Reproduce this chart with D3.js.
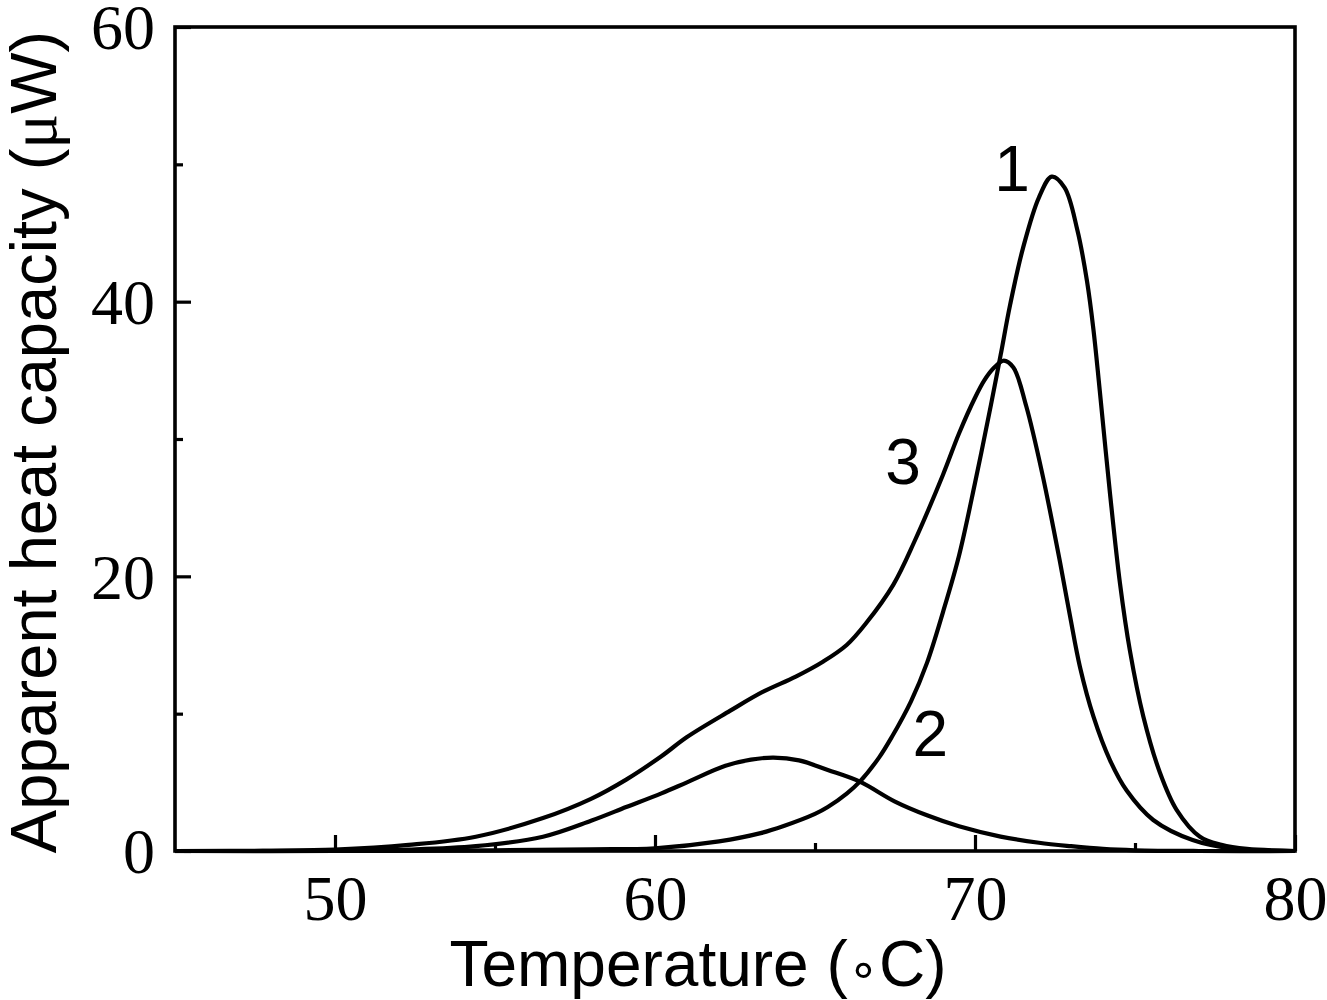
<!DOCTYPE html>
<html>
<head>
<meta charset="utf-8">
<script src="https://cdn.jsdelivr.net/npm/d3@7"></script>
<style>
  html, body { margin: 0; padding: 0; background: #fff; }
  svg { display: block; }
</style>
</head>
<body>
<svg id="chart" width="1327" height="1000"></svg>
<script>
// ---- Data ----
const xTicksMajor = [50, 60, 70, 80];
const xTicksMinor = [55, 65, 75];
const yTicksMajor = [0, 20, 40, 60];
const yTicksMinor = [10, 30, 50];

// Curve 1
const temp1 = [45, 50, 55, 58, 60, 62, 63.3, 64, 65, 65.4, 66, 66.4, 67, 67.4, 68, 68.5, 69, 69.5, 70, 70.5, 70.8, 71.1, 71.5, 72, 72.4, 72.8, 73.2, 73.5, 73.7, 73.9, 74.22, 74.53, 74.84, 75.26, 75.78, 76.3, 77.03, 77.7, 78.5, 80];
const cp1   = [0, 0, 0.05, 0.12, 0.2, 0.7, 1.3, 1.8, 2.7, 3.2, 4.2, 5.05, 6.8, 8.3, 10.9, 13.7, 17.4, 21.5, 26.8, 32.5, 36.1, 39.8, 43.9, 47.6, 49.1, 48.3, 45.2, 41.5, 38.0, 33.5, 26.0, 19.5, 14.6, 9.8, 5.7, 3.0, 1.04, 0.45, 0.15, 0];

// Curve 2
const temp2 = [45, 50, 52.3, 54.4, 56.5, 58, 59.1, 60.2, 61, 62.2, 63, 63.7, 64.5, 65.4, 66.4, 67.5, 68.5, 69.5, 70.8, 72, 73, 74, 75, 77, 80];
const cp2   = [0, 0.02, 0.1, 0.35, 1.04, 2.2, 3.2, 4.2, 5.0, 6.2, 6.65, 6.8, 6.6, 5.9, 5.05, 3.6, 2.6, 1.8, 1.05, 0.6, 0.35, 0.15, 0.05, 0, 0];

// Curve 3
const temp3 = [45, 48, 50, 52.3, 54.4, 56.5, 58, 59.1, 60.2, 61, 62.34, 63.38, 64.4, 65.26, 65.99, 66.6, 67.45, 68.1, 69, 69.5, 70, 70.3, 70.6, 70.9, 71.2, 71.6, 72.1, 72.66, 72.97, 73.28, 73.7, 74.22, 74.74, 75.57, 76.8, 78, 80];
const cp3   = [0, 0.02, 0.1, 0.44, 1.04, 2.4, 3.8, 5.2, 6.9, 8.3, 10.2, 11.6, 12.7, 13.8, 15.0, 16.6, 19.4, 22.5, 27.4, 30.4, 33.0, 34.3, 35.2, 35.7, 35.2, 32.4, 27.5, 21.0, 17.1, 13.4, 9.8, 6.6, 4.4, 2.26, 0.8, 0.2, 0];

const series = [
  { name: "1", t: temp1, v: cp1, labelT: 71.16, labelV: 49.7 },
  { name: "2", t: temp2, v: cp2, labelT: 68.6, labelV: 8.6 },
  { name: "3", t: temp3, v: cp3, labelT: 67.75, labelV: 28.4 }
];

const xTitle = "Temperature (";
const yTitle = "Apparent heat capacity (";

// ---- Layout ----
const svg = d3.select("#chart");
const x = d3.scaleLinear().domain([45, 80]).range([175, 1295]);
const y = d3.scaleLinear().domain([0, 60]).range([851, 27]);

const serif = "'Liberation Serif', 'Times New Roman', Times, serif";
const sans = "'Liberation Sans', Arial, Helvetica, sans-serif";

// Curves
const line = d3.line()
  .x((d) => x(d[0]))
  .y((d) => y(d[1]))
  .curve(d3.curveCatmullRom.alpha(0.5));

const plot = svg.append("g");
series.forEach((s) => {
  const pts = s.t.map((t, i) => [t, s.v[i]]);
  plot.append("path")
    .attr("d", line(pts))
    .attr("fill", "none")
    .attr("stroke", "#000")
    .attr("stroke-width", 4.2)
    .attr("stroke-linejoin", "round");
});

// Frame
svg.append("rect")
  .attr("x", x(45)).attr("y", y(60))
  .attr("width", x(80) - x(45)).attr("height", y(0) - y(60))
  .attr("fill", "none").attr("stroke", "#000").attr("stroke-width", 3.6);

// X ticks (inward)
const xAxis = d3.axisBottom(x).tickValues(xTicksMajor).tickSizeInner(-16).tickSizeOuter(0)
  .tickFormat(d3.format("d"));
const gx = svg.append("g").attr("transform", `translate(0,${y(0)})`).call(xAxis);
gx.select(".domain").remove();
gx.selectAll(".tick line").attr("stroke", "#000").attr("stroke-width", 3.2);
gx.selectAll(".tick text").attr("font-family", serif).attr("font-size", 64).attr("fill", "#000")
  .attr("dy", "0.71em").attr("y", 24);
const xMinor = d3.axisBottom(x).tickValues(xTicksMinor).tickSizeInner(-8).tickSizeOuter(0).tickFormat("");
const gxm = svg.append("g").attr("transform", `translate(0,${y(0)})`).call(xMinor);
gxm.select(".domain").remove();
gxm.selectAll(".tick line").attr("stroke", "#000").attr("stroke-width", 3.2);

// Y ticks (inward)
const yAxis = d3.axisLeft(y).tickValues(yTicksMajor).tickSizeInner(-16).tickSizeOuter(0)
  .tickFormat(d3.format("d"));
const gy = svg.append("g").attr("transform", `translate(${x(45)},0)`).call(yAxis);
gy.select(".domain").remove();
gy.selectAll(".tick line").attr("stroke", "#000").attr("stroke-width", 3.2);
gy.selectAll(".tick text").attr("font-family", serif).attr("font-size", 64).attr("fill", "#000")
  .attr("x", -20).attr("dy", "0.34em");
const yMinor = d3.axisLeft(y).tickValues(yTicksMinor).tickSizeInner(-8).tickSizeOuter(0).tickFormat("");
const gym = svg.append("g").attr("transform", `translate(${x(45)},0)`).call(yMinor);
gym.select(".domain").remove();
gym.selectAll(".tick line").attr("stroke", "#000").attr("stroke-width", 3.2);

// Curve labels
series.forEach((s) => {
  svg.append("text")
    .attr("x", x(s.labelT)).attr("y", y(s.labelV))
    .attr("text-anchor", "middle")
    .attr("font-family", sans).attr("font-size", 64).attr("fill", "#000")
    .attr("dy", "0.36em")
    .text(s.name);
});

// Axis titles
const xt = svg.append("text")
  .attr("x", 698).attr("y", 986)
  .attr("text-anchor", "middle")
  .attr("font-family", sans).attr("font-size", 64).attr("fill", "#000");
xt.append("tspan").text(xTitle);
xt.append("tspan").attr("font-family", "'DejaVu Sans', sans-serif").attr("font-size", 50).text("\u2218");
xt.append("tspan").text("C)");

const yt = svg.append("text")
  .attr("transform", `translate(56,442) rotate(-90)`)
  .attr("text-anchor", "middle")
  .attr("font-family", sans).attr("font-size", 65).attr("fill", "#000");
yt.append("tspan").text(yTitle);
yt.append("tspan").attr("font-family", serif).text("\u03BC");
yt.append("tspan").text("W)");
</script>
</body>
</html>
